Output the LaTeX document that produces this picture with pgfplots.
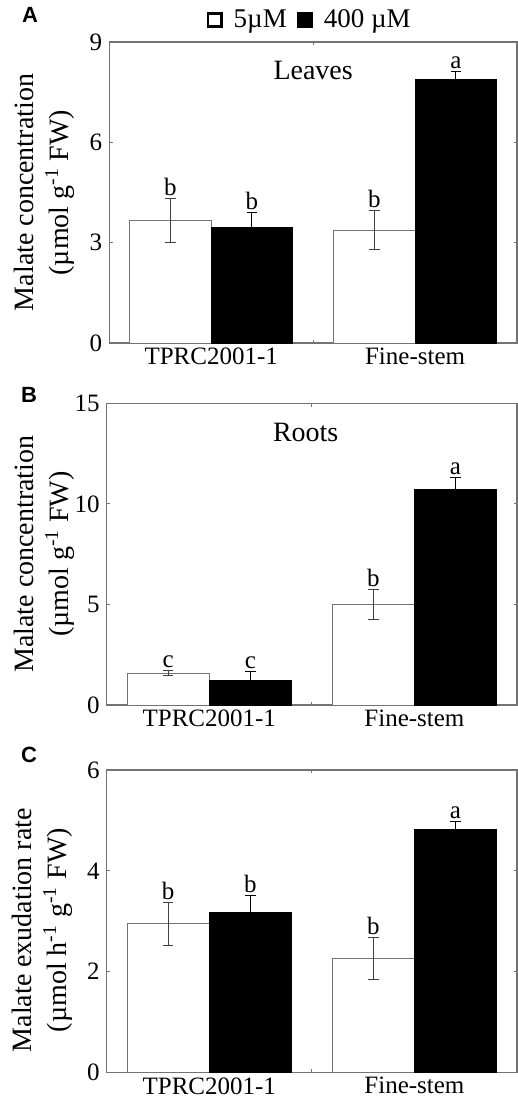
\documentclass[border=0pt]{standalone}
\usepackage{fontspec}
\setmainfont{Liberation Serif}
\newfontfamily\panelfont{Liberation Sans}
\usepackage{pgfplots}
\pgfplotsset{compat=1.18}
\definecolor{axgray}{gray}{0.45}
\pgfplotsset{
  panel/.style={
    scale only axis, xmin=0, xmax=4, ymin=0,
    axis line style={axgray, line width=0.6pt},
    tick align=inside,
    major tick length=1.6pt,
    tick style={axgray, line width=0.6pt},
    xtick={2}, xticklabels={},
    extra x ticks={1,3},
    extra x tick labels={TPRC2001-1,Fine-stem},
    extra x tick style={major tick length=0pt},
    ticklabel style={font=\fontsize{12.5}{13}\selectfont},
    /pgf/number format/assume math mode=true,
    ylabel style={align=center, font=\fontsize{14}{15}\selectfont, anchor=center},
    xticklabel style={yshift=1pt},
  },
  wbar/.style={ybar, bar width=0.8, bar shift=0pt, fill=white, draw=axgray, line width=0.5pt,
    error bars/y dir=both, error bars/y explicit,
    error bars/error bar style={black!75, line width=0.5pt},
    error bars/error mark options={rotate=90, mark size=2.6pt, black!75, line width=0.5pt}},
  bbar/.style={ybar, bar width=0.8, bar shift=0pt, fill=black, draw=black, line width=0.5pt,
    error bars/y dir=both, error bars/y explicit,
    error bars/error bar style={black, line width=0.5pt},
    error bars/error mark options={rotate=90, mark size=2.6pt, black, line width=0.5pt}},
  letters/.style={only marks, mark=none, forget plot, nodes near coords,
    point meta=explicit symbolic,
    nodes near coords style={font=\fontsize{12.5}{13}\selectfont, anchor=base, yshift=1.5pt, inner sep=0pt}},
}
\begin{document}
\begin{tikzpicture}[x=1pt,y=1pt]
\useasboundingbox (0,0) rectangle (259,-549.5);
% Panel A
\begin{axis}[panel, at={(54.65pt,-171.5pt)}, anchor=south west,
  width=203.85pt, height=150.5pt, ymax=9, ytick={0,3,6,9},
  ylabel={Malate concentration\\[2.5pt](µmol g\textsuperscript{-1} FW)},
  ylabel style={at={(axis description cs:-0.159,0.5)}},
  legend style={draw=none, fill=none, at={(0.489,1)}, anchor=center, yshift=11pt,
    legend columns=-1, font=\fontsize{13.5}{14}\selectfont,
    nodes={inner sep=0pt},
    /tikz/every odd column/.append style={column sep=5.5pt},
    /tikz/every even column/.append style={column sep=5pt}},
  legend cell align=left]
\addplot[wbar, legend image code/.code={\draw[black, line width=1.3pt, fill=white] (0.65pt,-3.35pt) rectangle (7.35pt,3.35pt);}]
  coordinates {(0.6,3.67) +- (0,0.66) (2.6,3.37) +- (0,0.58)};
\addlegendentry{5µM}
\addplot[bbar, legend image code/.code={\draw[black, line width=1.3pt, fill=black] (0.65pt,-3.35pt) rectangle (7.35pt,3.35pt);}]
  coordinates {(1.4,3.44) +- (0,0.47) (3.4,7.87) +- (0,0.26)};
\addlegendentry{400 µM}
\addplot[letters] table[meta=l] {
x y l
0.6 4.33 b
1.4 3.91 b
2.6 3.95 b
3.4 8.13 a
};
\node[font=\fontsize{14}{15}\selectfont] at (rel axis cs:0.5,0.907) {Leaves};
\end{axis}
% Panel B
\begin{axis}[panel, at={(53.35pt,-352.5pt)}, anchor=south west,
  width=205.15pt, height=150.85pt, ymax=15, ytick={0,5,10,15},
  ylabel={Malate concentration\\[2.5pt](µmol g\textsuperscript{-1} FW)},
  ylabel style={at={(axis description cs:-0.152,0.5)}}]
\addplot[wbar] coordinates {(0.6,1.58) +- (0,0.12) (2.6,5.01) +- (0,0.74)};
\addplot[bbar] coordinates {(1.4,1.24) +- (0,0.45) (3.4,10.73) +- (0,0.58)};
\addplot[letters] table[meta=l] {
x y l
0.6 1.70 c
1.4 1.69 c
2.6 5.75 b
3.4 11.31 a
};
\node[font=\fontsize{14}{15}\selectfont] at (rel axis cs:0.485,0.904) {Roots};
\end{axis}
% Panel C
\begin{axis}[panel, at={(53.35pt,-536.15pt)}, anchor=south west,
  width=205.15pt, height=151.15pt, ymax=6, ytick={0,2,4,6},
  ylabel={Malate exudation rate\\[2.5pt](µmol h\textsuperscript{-1} g\textsuperscript{-1} FW)},
  ylabel style={at={(axis description cs:-0.157,0.47)}}]
\addplot[wbar] coordinates {(0.6,2.95) +- (0,0.43) (2.6,2.26) +- (0,0.41)};
\addplot[bbar] coordinates {(1.4,3.17) +- (0,0.33) (3.4,4.81) +- (0,0.16)};
\addplot[letters] table[meta=l] {
x y l
0.6 3.38 b
1.4 3.50 b
2.6 2.67 b
3.4 4.97 a
};
\end{axis}
\node[font=\panelfont\bfseries\fontsize{11}{12}\selectfont] at (15,-7.5) {A};
\node[font=\panelfont\bfseries\fontsize{11}{12}\selectfont] at (14.5,-197.5) {B};
\node[font=\panelfont\bfseries\fontsize{11}{12}\selectfont] at (14.5,-377.3) {C};
\end{tikzpicture}
\end{document}
